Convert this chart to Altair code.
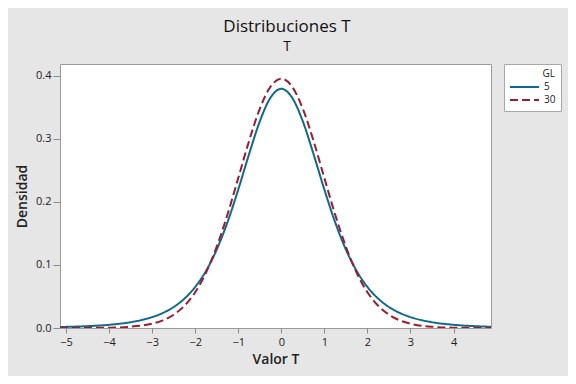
import altair as alt
import pandas as pd

# Values (Student t densities)
x_vals = [-5.14, -5.0, -4.5, -4.0, -3.5, -3.0, -2.75, -2.5, -2.25, -2.0, -1.75, -1.5,
          -1.25, -1.0, -0.75, -0.5, -0.25, 0.0, 0.25, 0.5, 0.75, 1.0, 1.25, 1.5,
          1.75, 2.0, 2.25, 2.5, 2.75, 3.0, 3.5, 4.0, 4.5, 4.87]
gl5 = [0.0015, 0.0018, 0.0029, 0.0051, 0.0092, 0.0173, 0.0239, 0.0333, 0.0466, 0.0651,
       0.0905, 0.1245, 0.1679, 0.2197, 0.2757, 0.3279, 0.3657, 0.3796, 0.3657, 0.3279,
       0.2757, 0.2197, 0.1679, 0.1245, 0.0905, 0.0651, 0.0466, 0.0333, 0.0239, 0.0173,
       0.0092, 0.0051, 0.0029, 0.0020]
gl30 = [0.0000, 0.0000, 0.0001, 0.0005, 0.0020, 0.0068, 0.0121, 0.0211, 0.0353, 0.0568,
        0.0877, 0.1290, 0.1801, 0.2380, 0.2966, 0.3479, 0.3831, 0.3956, 0.3831, 0.3479,
        0.2966, 0.2380, 0.1801, 0.1290, 0.0877, 0.0568, 0.0353, 0.0211, 0.0121, 0.0068,
        0.0020, 0.0005, 0.0001, 0.0000]
series = ["5", "30"]
x_ticks = [-5, -4, -3, -2, -1, 0, 1, 2, 3, 4]
y_ticks = [0.0, 0.1, 0.2, 0.3, 0.4]

rows = []
for xv, a, b in zip(x_vals, gl5, gl30):
    rows.append({"x": xv, "y": a, "GL": series[0]})
    rows.append({"x": xv, "y": b, "GL": series[1]})
df = pd.DataFrame(rows)

FONT = "Open Sans"

chart = alt.Chart(df).mark_line(strokeWidth=2, interpolate="monotone", clip=True).encode(
    x=alt.X("x:Q", title="Valor T",
            scale=alt.Scale(domain=[-5.14, 4.87], nice=False, zero=False),
            axis=alt.Axis(values=x_ticks, format="d", grid=False, domain=False,
                          tickColor="#8a8a8a", tickSize=5, labelPadding=3,
                          labelFontSize=11, labelColor="#222", labelFont=FONT,
                          titleFont=FONT, titleFontSize=14, titleFontWeight=600,
                          titleColor="#222", titlePadding=5)),
    y=alt.Y("y:Q", title="Densidad",
            scale=alt.Scale(domain=[0, 0.419], nice=False),
            axis=alt.Axis(values=y_ticks, format=".1f", grid=False, domain=False,
                          tickColor="#8a8a8a", tickSize=7, labelPadding=2,
                          labelFontSize=11, labelColor="#222", labelFont=FONT,
                          titleFont=FONT, titleFontSize=14, titleFontWeight=600,
                          titleColor="#222", titlePadding=6)),
    color=alt.Color("GL:N", scale=alt.Scale(domain=series, range=["#0d6a8c", "#9c1b30"]),
                    legend=alt.Legend(title="GL", orient="none", legendX=444, legendY=0,
                                      fillColor="white", strokeColor="#a8a8a8",
                                      padding=5, symbolType="stroke", symbolSize=841,
                                      symbolStrokeWidth=2, clipHeight=12,
                                      titleAnchor="end",
                                      titleAlign="right", titleFont=FONT,
                                      titleFontSize=10, titleFontWeight="normal",
                                      titleColor="#222", labelFont=FONT,
                                      labelFontSize=10, labelColor="#222",
                                      labelOffset=4, rowPadding=1, titlePadding=2)),
    strokeDash=alt.StrokeDash("GL:N", scale=alt.Scale(domain=series, range=[[1, 0], [8, 4]]),
                              legend=alt.Legend(title="GL")),
    order=alt.Order("GL:N"),
).properties(
    width=431,
    height=264,
    title=alt.TitleParams("Distribuciones T", subtitle="T", font=FONT, fontSize=17,
                          fontWeight="normal", color="#111", subtitleFont=FONT,
                          subtitleFontSize=14, subtitleColor="#111", subtitlePadding=4,
                          anchor="middle", dx=11.5, offset=9),
    background="#e6e6e6",
    autosize=alt.AutoSizeParams(type="none"),
    padding={"left": 52, "top": 56, "right": 77, "bottom": 48},
).configure_view(
    fill="white", stroke="#9a9a9a", strokeWidth=1
)

chart.save("out.html", embed_options={"renderer": "svg", "actions": False})
